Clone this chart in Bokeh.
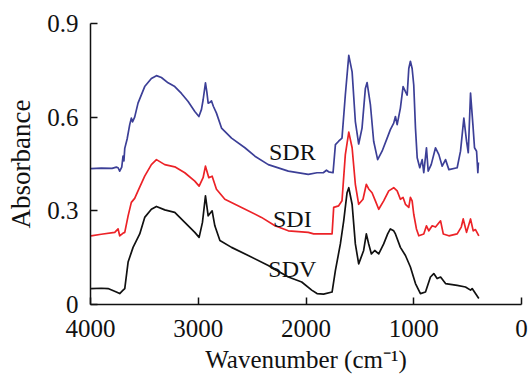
from bokeh.plotting import figure
from bokeh.models import Range1d, FixedTicker, ColumnDataSource
from bokeh.core.properties import value
from bokeh.embed import file_html
from bokeh.resources import INLINE

# ---- data ----
sdr_wn = [3995, 3900, 3800, 3760, 3744, 3729, 3710, 3698, 3690, 3682, 3660, 3636, 3621, 3610, 3590,
          3559, 3497, 3435, 3388, 3342, 3280, 3218, 3156, 3094, 3032, 2994, 2970, 2955, 2933, 2920,
          2908, 2890, 2877, 2860, 2831, 2784, 2691, 2567, 2474, 2350, 2164, 1979, 1898, 1840, 1810,
          1790, 1749, 1727, 1697, 1666, 1635, 1603, 1572, 1542, 1511, 1480, 1449, 1433, 1402, 1372,
          1335, 1294, 1247, 1217, 1186, 1170, 1154, 1124, 1099, 1077, 1061, 1046, 1031, 1015, 1000,
          984, 968, 944, 922, 907, 882, 866, 838, 798, 767, 736, 705, 674, 597, 566, 535, 510, 494,
          473, 451, 436, 417, 405, 400]
sdr_abs = [0.435, 0.437, 0.436, 0.440, 0.438, 0.427, 0.440, 0.475, 0.460, 0.500, 0.530, 0.576, 0.597, 0.585, 0.600,
           0.645, 0.698, 0.724, 0.733, 0.727, 0.710, 0.698, 0.676, 0.650, 0.618, 0.602, 0.625, 0.655, 0.710, 0.680,
           0.645, 0.648, 0.652, 0.635, 0.613, 0.565, 0.533, 0.502, 0.475, 0.448, 0.427, 0.417, 0.422, 0.422, 0.430,
           0.425, 0.422, 0.512, 0.523, 0.533, 0.671, 0.798, 0.745, 0.586, 0.514, 0.565, 0.692, 0.711, 0.639, 0.523,
           0.464, 0.491, 0.533, 0.560, 0.581, 0.602, 0.576, 0.629, 0.698, 0.682, 0.671, 0.756, 0.779, 0.756, 0.703,
           0.565, 0.470, 0.438, 0.464, 0.422, 0.502, 0.427, 0.448, 0.502, 0.480, 0.443, 0.464, 0.432, 0.438, 0.491,
           0.597, 0.523, 0.486, 0.677, 0.576, 0.502, 0.491, 0.422, 0.455]

sdi_wn = [3995, 3900, 3775, 3744, 3729, 3700, 3682, 3651, 3621, 3590, 3559, 3497, 3435, 3388, 3311,
          3218, 3125, 3032, 2992, 2955, 2933, 2902, 2871, 2831, 2753, 2598, 2413, 2288, 2164, 1979,
          1929, 1758, 1743, 1697, 1666, 1635, 1603, 1572, 1542, 1511, 1471, 1440, 1418, 1387, 1356,
          1325, 1279, 1232, 1186, 1154, 1124, 1099, 1077, 1046, 1031, 1015, 1000, 975, 953, 907,
          882, 860, 829, 798, 751, 726, 674, 597, 559, 541, 510, 473, 448, 427, 396]
sdi_abs = [0.220, 0.225, 0.231, 0.242, 0.220, 0.228, 0.231, 0.284, 0.327, 0.340, 0.364, 0.411, 0.448, 0.464, 0.448,
           0.441, 0.422, 0.395, 0.379, 0.406, 0.443, 0.406, 0.411, 0.369, 0.337, 0.311, 0.279, 0.252, 0.236, 0.231,
           0.226, 0.226, 0.311, 0.316, 0.332, 0.480, 0.552, 0.502, 0.385, 0.321, 0.337, 0.385, 0.370, 0.358, 0.332,
           0.305, 0.332, 0.364, 0.374, 0.364, 0.337, 0.343, 0.321, 0.311, 0.343, 0.332, 0.289, 0.242, 0.220, 0.226,
           0.252, 0.236, 0.252, 0.248, 0.268, 0.226, 0.220, 0.226, 0.248, 0.274, 0.231, 0.274, 0.236, 0.240, 0.220]

sdv_wn = [3995, 3900, 3837, 3760, 3729, 3700, 3682, 3651, 3605, 3543, 3497, 3435, 3388, 3311, 3218,
          3125, 3032, 2992, 2961, 2933, 2908, 2871, 2846, 2799, 2691, 2536, 2350, 2164, 2040, 1947,
          1898, 1837, 1758, 1727, 1681, 1650, 1619, 1603, 1572, 1542, 1511, 1465, 1440, 1418, 1393,
          1362, 1325, 1279, 1242, 1217, 1186, 1170, 1124, 1077, 1031, 984, 938, 891, 845, 814,
          783, 751, 705, 597, 520, 473, 458, 396]
sdv_abs = [0.051, 0.052, 0.051, 0.040, 0.035, 0.045, 0.051, 0.136, 0.183, 0.226, 0.279, 0.305, 0.314, 0.303, 0.295,
           0.263, 0.231, 0.215, 0.263, 0.348, 0.284, 0.300, 0.252, 0.205, 0.183, 0.157, 0.125, 0.088, 0.072, 0.046,
           0.035, 0.033, 0.040, 0.109, 0.194, 0.268, 0.358, 0.374, 0.321, 0.194, 0.130, 0.173, 0.226, 0.194, 0.162,
           0.173, 0.162, 0.194, 0.226, 0.242, 0.236, 0.226, 0.183, 0.157, 0.120, 0.067, 0.035, 0.040, 0.088, 0.099,
           0.083, 0.088, 0.067, 0.061, 0.056, 0.046, 0.051, 0.019]

series_names = ["SDR", "SDI", "SDV"]
series_colors = ["#3c3f97", "#ec2227", "#111111"]
label_wn = [2127, 2127, 2127]
label_abs = [0.487, 0.274, 0.115]

x_ticks = [4000, 3000, 2000, 1000, 0]
x_tick_labels = ["4000", "3000", "2000", "1000", "0"]
y_ticks = [0, 0.3, 0.6, 0.9]
y_tick_labels = ["0", "0.3", "0.6", "0.9"]

FONT = "Liberation Serif"

p = figure(width=528, height=375, output_backend="svg", toolbar_location=None,
           x_range=Range1d(4000, 0), y_range=Range1d(0, 0.9),
           min_border_left=90, min_border_right=7, min_border_top=23, min_border_bottom=0)
p.outline_line_color = None
p.grid.visible = False
p.background_fill_color = "white"

for wn, ab, c in zip([sdr_wn, sdi_wn, sdv_wn], [sdr_abs, sdi_abs, sdv_abs], series_colors):
    p.line(wn, ab, line_color=c, line_width=1.7, line_join="round")

src = ColumnDataSource(dict(x=label_wn, y=label_abs, t=series_names))
p.text(x="x", y="y", text="t", source=src, text_font=value(FONT), text_font_size="24px",
       text_align="center", text_baseline="alphabetic", text_color="#111111")

for ax in (p.xaxis[0], p.yaxis[0]):
    ax.axis_line_width = 1.5
    ax.axis_line_color = "#111111"
    ax.major_tick_line_width = 1.5
    ax.major_tick_line_color = "#111111"
    ax.major_tick_in = 7
    ax.major_tick_out = 0
    ax.minor_tick_line_color = None
    ax.major_label_text_font = FONT
    ax.major_label_text_font_size = "25px"
    ax.major_label_text_color = "#111111"
    ax.axis_label_text_font = FONT
    ax.axis_label_text_font_style = "normal"
    ax.axis_label_text_color = "#111111"

p.xaxis.axis_label_text_font_size = "25px"
p.yaxis.axis_label_text_font_size = "27px"

p.xaxis.ticker = FixedTicker(ticks=x_ticks)
p.xaxis.major_label_overrides = dict(zip(x_ticks, x_tick_labels))
p.yaxis.ticker = FixedTicker(ticks=y_ticks)
p.yaxis.major_label_overrides = dict(zip(y_ticks, y_tick_labels))

p.xaxis.axis_label = "Wavenumber (cm\u207b\u00b9)"
p.yaxis.axis_label = "Absorbance"
p.xaxis.major_label_standoff = 15
p.xaxis.axis_label_standoff = 6
p.yaxis.major_label_standoff = 12
p.yaxis.axis_label_standoff = 8

open("out.html", "w").write(file_html(p, INLINE))
